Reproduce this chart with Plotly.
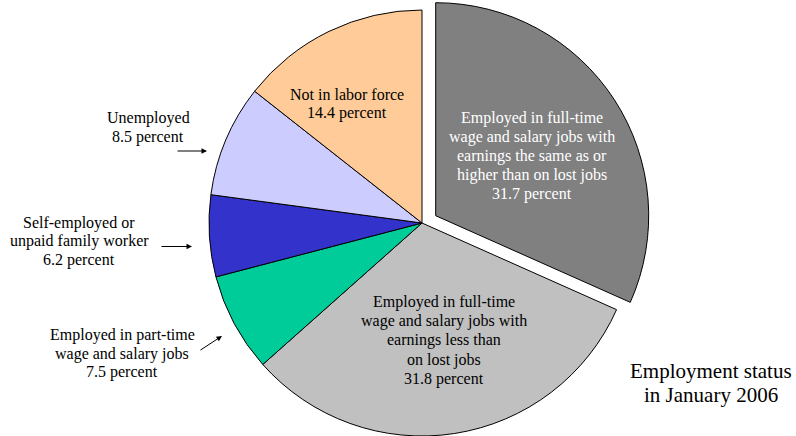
import plotly.graph_objects as go

# ---- data ----
labels = [
    "Employed in full-time\nwage and salary jobs with\nearnings the same as or\nhigher than on lost jobs",
    "Employed in full-time\nwage and salary jobs with\nearnings less than\non lost jobs",
    "Employed in part-time\nwage and salary jobs",
    "Self-employed or\nunpaid family worker",
    "Unemployed",
    "Not in labor force",
]
values = [31.7, 31.8, 7.5, 6.2, 8.5, 14.4]
colors = ["#808080", "#C0C0C0", "#00CC99", "#3333CC", "#CCCCFF", "#FFCC99"]
title_lines = ["Employment status", "in January 2006"]

# ---- layout helpers ----
W, H = 796, 436
FONT = "Liberation Serif"
R = 213
main_c = (422, 223)
pulled_c = (435.7, 215.7)
pulled_idx = 0


def dom(cx, cy, r):
    return dict(x=[(cx - r) / W, (cx + r) / W], y=[1 - (cy + r) / H, 1 - (cy - r) / H])


clear = "rgba(0,0,0,0)"
n = len(values)

main_colors = [clear if i == pulled_idx else c for i, c in enumerate(colors)]
main_lw = [0 if i == pulled_idx else 1 for i in range(n)]
pull_colors = [colors[i] if i == pulled_idx else clear for i in range(n)]
pull_lw = [1 if i == pulled_idx else 0 for i in range(n)]

fig = go.Figure()
fig.add_trace(go.Pie(
    values=values, labels=[l.replace("\n", " ") for l in labels], sort=False,
    direction="clockwise", rotation=0, textinfo="none", hoverinfo="skip",
    marker=dict(colors=main_colors, line=dict(color="black", width=main_lw)),
    domain=dom(*main_c, R), showlegend=False,
))
fig.add_trace(go.Pie(
    values=values, labels=[l.replace("\n", " ") for l in labels], sort=False,
    direction="clockwise", rotation=0, textinfo="none", hoverinfo="skip",
    marker=dict(colors=pull_colors, line=dict(color="black", width=pull_lw)),
    domain=dom(*pulled_c, R), showlegend=False,
))

# label positions (center x, first line y, line step) and text colour
label_pos = [
    (532, 118, 19, "white"),
    (444, 302, 19.2, "black"),
    (122, 335, 18.5, "black"),
    (79, 222.7, 18.7, "black"),
    (148, 118, 19, "black"),
    (347, 94, 19, "black"),
]

annotations = []
for lab, val, (cx, y0, step, col) in zip(labels, values, label_pos):
    lines = lab.split("\n") + [f"{val} percent"]
    for k, ln in enumerate(lines):
        annotations.append(dict(
            x=cx / W, y=1 - (y0 + k * step) / H, xref="paper", yref="paper",
            text=ln, showarrow=False, xanchor="center", yanchor="middle",
            font=dict(family=FONT, size=16, color=col),
        ))

for k, ln in enumerate(title_lines):
    annotations.append(dict(
        x=711 / W, y=1 - (370.7 + k * 24.5) / H, xref="paper", yref="paper",
        text=ln, showarrow=False, xanchor="center", yanchor="middle",
        font=dict(family=FONT, size=21, color="black"),
    ))

# arrows: (tip x, tip y, dx, dy) in px
arrows = [(207, 151, -31, 0), (192, 246.5, -32, 0), (222, 336, -23, 15)]
for tx, ty, dx, dy in arrows:
    annotations.append(dict(
        x=tx / W, y=1 - ty / H, xref="paper", yref="paper", text="",
        showarrow=True, ax=dx, ay=dy, arrowhead=2, arrowsize=1.1,
        arrowwidth=1, arrowcolor="black", standoff=0, startstandoff=0,
    ))

fig.update_layout(
    width=W, height=H, margin=dict(l=0, r=0, t=0, b=0),
    paper_bgcolor="white", plot_bgcolor="white",
    annotations=annotations, showlegend=False,
    font=dict(family=FONT),
)

fig.write_html(
    "out.html",
    config={"displayModeBar": False},
    post_script="document.body.style.margin='0';document.body.style.overflow='hidden';",
)
